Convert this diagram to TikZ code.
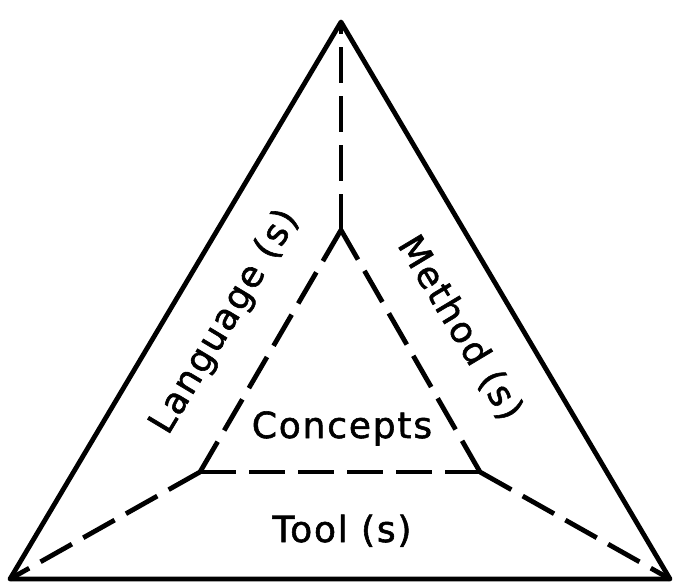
\documentclass[tikz,border=0pt]{standalone}
\usepackage{fontspec}
\setmainfont{DejaVu Sans}[LetterSpace=5,FakeBold=1.6]
\begin{document}
\begin{tikzpicture}[x=1pt,y=-1pt,
  solidline/.style={line width=4.8pt,line cap=round,line join=round},
  dashline/.style={line width=4.8pt,line cap=butt,dash pattern=on 36pt off 13pt},
  lbl/.style={font=\fontsize{36}{40}\selectfont,inner sep=0pt}]
\useasboundingbox (0,0) rectangle (675,588);
\coordinate (A) at (341,22);
\coordinate (B) at (10,579);
\coordinate (C) at (670,579);
\coordinate (a) at (341,230);
\coordinate (b) at (200,472);
\coordinate (c) at (480,472);
\draw[solidline] (A) -- (B) -- (C) -- cycle;
\draw[dashline] (a) -- (b);
\draw[dashline] (b) -- (c);
\draw[dashline] (c) -- (a);
\draw[dashline] (a) -- (A);
\draw[dashline] (b) -- (B);
\draw[dashline] (c) -- (C);
\node[lbl,anchor=base] (concepts) at (342,438) {Concepts};
\node[lbl,anchor=base] (tool) at (342,542) {Tool (s)};
\node[lbl,rotate=59] (lang) at (225,322) {Language (s)};
\node[lbl,rotate=-59] (meth) at (460,328) {Method (s)};
\end{tikzpicture}
\end{document}
